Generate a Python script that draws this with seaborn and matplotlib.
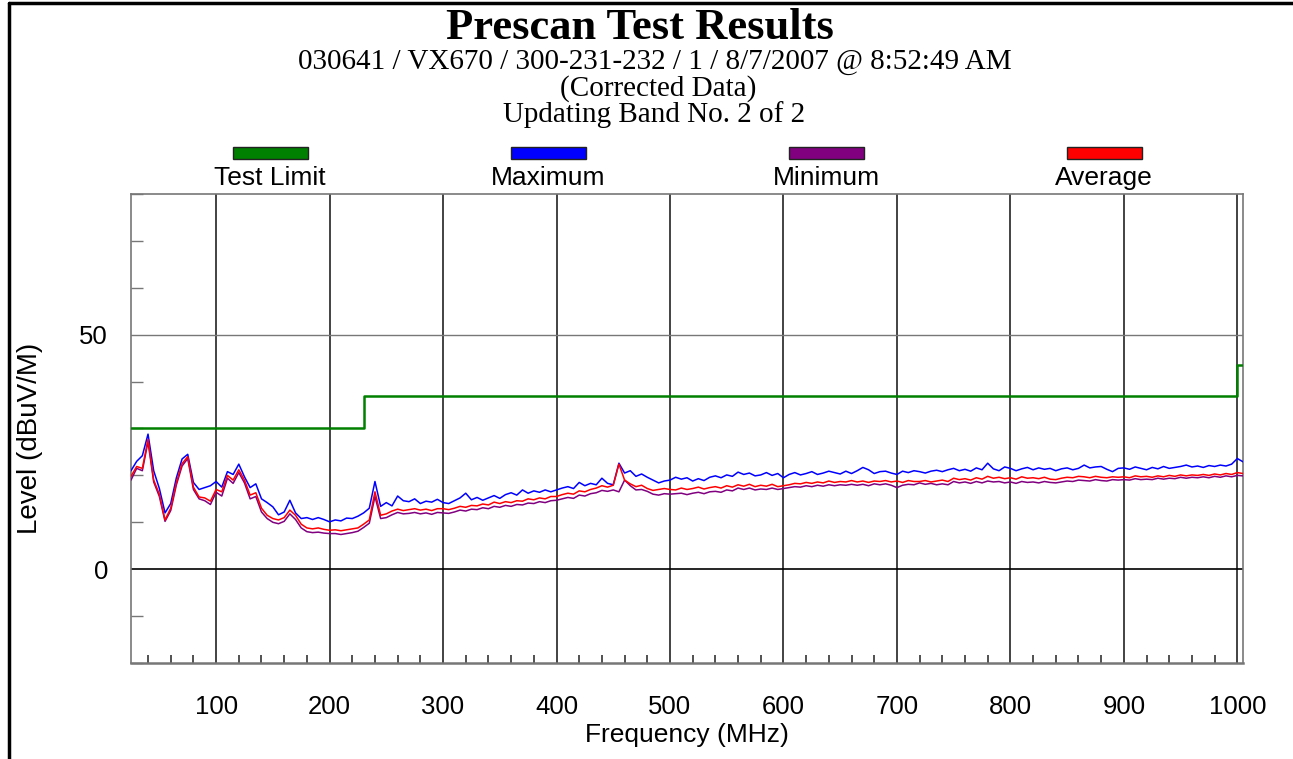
import numpy as np
import pandas as pd
import matplotlib
matplotlib.use("Agg")
import matplotlib.pyplot as plt
from matplotlib.patches import Rectangle
from matplotlib.lines import Line2D
from matplotlib.ticker import MultipleLocator
import seaborn as sns

# ---------------------------------------------------------------- data
freq_mhz = np.arange(25, 1006, 5)

maximum = [
    21.0, 23.0, 24.2, 28.8, 21.0, 17.2, 12.0, 14.0, 19.5, 23.5, 24.5, 18.5, 17.0, 17.4, 17.8, 18.7,
    17.5, 20.8, 20.2, 22.4, 19.7, 17.4, 18.2, 15.0, 14.2, 13.3, 11.6, 12.2, 14.7, 12.0, 10.8, 11.0,
    10.6, 11.0, 10.6, 10.1, 10.5, 10.3, 10.9, 10.8, 11.3, 12.0, 13.0, 18.7, 13.4, 14.2, 13.5, 15.6,
    14.6, 14.4, 15.0, 14.0, 14.5, 14.3, 14.9, 14.2, 14.0, 14.6, 15.2, 16.2, 14.8, 15.3, 14.7, 15.2,
    15.7, 15.1, 15.9, 16.3, 15.8, 16.9, 16.2, 16.7, 16.4, 16.9, 16.5, 16.9, 17.3, 17.6, 17.2, 18.5,
    17.8, 18.3, 18.0, 19.4, 18.3, 18.0, 22.6, 20.5, 21.0, 19.8, 20.3, 19.6, 19.0, 18.4, 18.8, 19.0,
    19.6, 19.2, 19.5, 18.8, 19.3, 18.9, 19.6, 19.9, 19.5, 20.1, 19.8, 20.7, 20.2, 20.5, 19.9, 20.1,
    20.6, 20.0, 20.4, 19.5, 20.2, 20.6, 20.1, 20.4, 20.8, 20.2, 20.5, 20.9, 20.6, 20.3, 20.9, 20.4,
    21.0, 21.7, 21.2, 20.4, 20.8, 20.9, 20.5, 20.2, 20.9, 20.6, 21.0, 20.8, 20.5, 20.9, 21.1, 20.8,
    21.2, 21.5, 21.0, 21.3, 20.9, 21.6, 21.2, 22.6, 21.4, 21.0, 21.8, 21.5, 21.0, 21.4, 21.7, 21.2,
    21.6, 21.3, 21.5, 21.0, 21.4, 21.6, 21.2, 21.5, 22.2, 21.6, 21.8, 21.9, 21.3, 20.8, 21.5, 21.6,
    21.3, 21.8, 21.5, 21.2, 21.7, 21.4, 21.9, 21.5, 21.7, 21.9, 22.2, 21.8, 22.0, 21.7, 22.1, 21.9,
    22.2, 22.0, 22.4, 23.6, 22.9,
]

average = [
    19.8, 21.9, 21.5, 27.7, 19.0, 16.0, 10.5, 13.0, 18.5, 22.5, 24.0, 17.5, 15.4, 15.2, 14.5, 17.0,
    16.5, 20.0, 19.0, 21.2, 19.0, 15.8, 16.3, 13.0, 11.5, 10.8, 10.5, 11.0, 12.6, 11.5, 9.6, 8.8,
    8.6, 8.8, 8.5, 8.3, 8.4, 8.2, 8.4, 8.6, 8.8, 9.6, 10.5, 16.5, 11.5, 11.8, 12.4, 12.8,
    12.5, 12.7, 12.9, 12.6, 12.8, 12.5, 12.9, 12.9, 12.7, 13.0, 13.4, 13.2, 13.6, 13.5, 13.9, 13.7,
    14.3, 14.0, 14.4, 14.2, 14.6, 14.5, 15.0, 14.8, 15.2, 15.0, 15.5, 15.5, 15.9, 16.2, 16.0, 16.7,
    16.5, 17.0, 17.3, 17.8, 17.5, 17.9, 22.4, 19.0, 18.2, 17.6, 17.9, 17.2, 16.8, 17.0, 17.2, 17.0,
    16.9, 17.3, 17.0, 17.2, 17.5, 17.1, 17.4, 17.6, 17.3, 17.8, 17.5, 18.0, 17.7, 18.1, 17.6, 17.9,
    17.7, 18.1, 17.6, 17.8, 18.0, 18.3, 18.2, 18.5, 18.3, 18.6, 18.4, 18.8, 18.5, 18.7, 18.6, 18.9,
    18.6, 18.8, 18.5, 18.8, 18.7, 18.9, 18.6, 18.8, 18.5, 18.9, 18.7, 18.7, 18.9, 18.6, 18.8, 19.0,
    18.7, 19.4, 19.1, 19.3, 19.0, 19.5, 19.2, 19.8, 19.4, 19.6, 19.3, 19.5, 19.2, 19.7, 19.4, 19.5,
    19.3, 19.6, 19.2, 19.1, 19.4, 19.6, 19.5, 19.8, 19.7, 19.5, 19.8, 19.6, 19.5, 19.7, 19.6, 19.7,
    19.5, 19.9, 19.7, 19.8, 19.6, 19.9, 19.7, 20.0, 19.8, 20.1, 19.9, 20.1, 20.0, 20.2, 20.0, 20.3,
    20.1, 20.4, 20.2, 20.6, 20.4,
]

minimum = [
    19.0, 21.5, 21.0, 27.2, 18.6, 15.5, 10.2, 12.5, 18.0, 22.0, 23.6, 17.0, 15.0, 14.6, 13.8, 16.4,
    15.6, 19.4, 18.3, 20.6, 18.4, 15.0, 15.5, 12.2, 10.8, 10.0, 9.7, 10.2, 11.8, 10.6, 8.8, 8.0,
    7.8, 7.9, 7.7, 7.6, 7.6, 7.4, 7.6, 7.8, 8.1, 8.9, 9.8, 15.5, 10.8, 11.0, 11.6, 12.1,
    11.8, 11.9, 12.1, 11.8, 12.0, 11.7, 12.1, 12.0, 11.9, 12.2, 12.6, 12.4, 12.8, 12.7, 13.1, 12.9,
    13.4, 13.2, 13.6, 13.4, 13.8, 13.7, 14.1, 14.0, 14.4, 14.2, 14.6, 14.7, 15.0, 15.3, 15.1, 15.8,
    15.6, 16.1, 16.3, 16.8, 16.6, 16.9, 16.5, 19.0, 17.8, 16.9, 17.0, 16.6, 16.0, 15.8, 16.1, 16.0,
    16.1, 16.2, 15.9, 16.2, 16.4, 16.1, 16.5, 16.6, 16.4, 16.9, 16.7, 17.3, 17.0, 17.3, 16.9, 17.1,
    17.0, 17.3, 17.0, 17.2, 17.4, 17.6, 17.5, 17.8, 17.6, 17.9, 17.7, 18.0, 17.8, 18.0, 17.9, 18.1,
    17.9, 18.1, 17.8, 18.2, 18.0, 18.2, 17.9, 17.4, 17.9, 18.1, 18.0, 18.4, 18.1, 18.3, 18.0, 18.2,
    18.0, 18.7, 18.4, 18.6, 18.3, 18.7, 18.4, 18.8, 18.6, 18.7, 18.4, 18.6, 18.3, 18.7, 18.5, 18.6,
    18.4, 18.7, 18.5, 18.4, 18.6, 18.8, 18.7, 19.0, 18.9, 18.8, 19.1, 18.9, 18.8, 19.1, 19.0, 19.1,
    19.0, 19.3, 19.1, 19.2, 19.1, 19.4, 19.2, 19.4, 19.3, 19.6, 19.4, 19.6, 19.5, 19.7, 19.5, 19.8,
    19.6, 19.9, 19.7, 20.0, 19.9,
]

limit_freq = [25, 230, 1000, 1005]
limit_level = [30, 37, 43.5, 43.5]

x_ticks = [100, 200, 300, 400, 500, 600, 700, 800, 900, 1000]
y_ticks = [0, 50]

series_names = ["Test Limit", "Maximum", "Minimum", "Average"]
series_colors = ["#008000", "#0000ff", "#800080", "#ff0000"]

# ---------------------------------------------------------------- style
sns.set_style("white")
plt.rcParams["font.family"] = ["Liberation Sans", "DejaVu Sans"]
plt.rcParams.update({"text.color": "black", "axes.labelcolor": "black",
                     "xtick.color": "black", "ytick.color": "black"})

W, H = 1293, 759
fig = plt.figure(figsize=(W / 100, H / 100), dpi=100)
ax = fig.add_axes([131 / W, 1 - 663 / H, (1243 - 131) / W, (663 - 194) / H])

traces = pd.DataFrame({
    "freq": np.tile(freq_mhz, 3),
    "level": np.concatenate([maximum, minimum, average]),
    "trace": np.repeat(series_names[1:], len(freq_mhz)),
})

# grid
for xv in x_ticks:
    ax.axvline(xv, color="#222222", lw=1.2, zorder=1)
ax.axhline(50, color="#777777", lw=1.0, zorder=1)
ax.axhline(0, color="#000000", lw=1.2, zorder=1)

# measured traces
sns.lineplot(data=traces, x="freq", y="level", hue="trace",
             hue_order=series_names[1:], palette=series_colors[1:],
             lw=1.1, legend=False, ax=ax, zorder=3, estimator=None, sort=False)

# limit line
sns.lineplot(x=limit_freq, y=limit_level, color=series_colors[0], lw=1.8,
             drawstyle="steps-post", ax=ax, zorder=4, estimator=None)

ax.set_xlim(25, 1005)
ax.set_ylim(-20, 80)

ax.set_xticks(x_ticks)
ax.set_yticks(y_ticks)
ax.xaxis.set_minor_locator(MultipleLocator(20))
ax.yaxis.set_minor_locator(MultipleLocator(10))
ax.tick_params(axis="x", which="major", direction="out", length=15, width=1.1,
               color="black", labelsize=18.5, pad=8)
ax.tick_params(axis="x", which="minor", direction="in", length=6, width=1.1,
               color="#222222", bottom=True)
ax.tick_params(axis="y", which="major", direction="inout", length=17, width=1.1,
               color="#333333", labelsize=18.5, pad=8)
ax.tick_params(axis="y", which="minor", direction="in", length=8.5, width=1.0,
               color="#777777", left=True)

for side in ["top", "left", "right", "bottom"]:
    ax.spines[side].set_color("#777777")
    ax.spines[side].set_linewidth(1.2)
ax.spines["bottom"].set_linewidth(1.8)

ax.set_xlabel("Frequency (MHz)", fontsize=19, labelpad=3)
ax.set_ylabel("Level (dBuV/M)", fontsize=20)
ax.yaxis.set_label_coords(-0.079, 0.48)

# headings
serif = ["Liberation Serif", "DejaVu Serif"]
fig.text(640 / W, 1 - 39 / H, "Prescan Test Results", ha="center", va="baseline",
         fontsize=32, fontweight="bold", family=serif)
fig.text(655 / W, 1 - 69 / H, "030641 / VX670 / 300-231-232 / 1 / 8/7/2007 @ 8:52:49 AM",
         ha="center", va="baseline", fontsize=21, family=serif)
fig.text(658 / W, 1 - 96 / H, "(Corrected Data)", ha="center", va="baseline",
         fontsize=21, family=serif)
fig.text(654 / W, 1 - 122 / H, "Updating Band No. 2 of 2", ha="center", va="baseline",
         fontsize=21, family=serif)

# legend: colour bar above each label
for i, (name, col) in enumerate(zip(series_names, series_colors)):
    cx = 270 + i * 278
    fig.add_artist(Rectangle(((cx - 37.5) / W, 1 - 159 / H), 75 / W, 12 / H,
                             transform=fig.transFigure, facecolor=col,
                             edgecolor="#222222", lw=1.0))
    fig.text(cx / W, 1 - 178 / H, name, ha="center", va="center", fontsize=19)

# page frame
fig.add_artist(Line2D([9 / W, 9 / W], [0, 1 - 3 / H], transform=fig.transFigure,
                      color="black", lw=2.5))
fig.add_artist(Line2D([9 / W, 1], [1 - 3 / H, 1 - 3 / H], transform=fig.transFigure,
                      color="black", lw=2.5))

fig.savefig("out.png", dpi=100, facecolor="white")
